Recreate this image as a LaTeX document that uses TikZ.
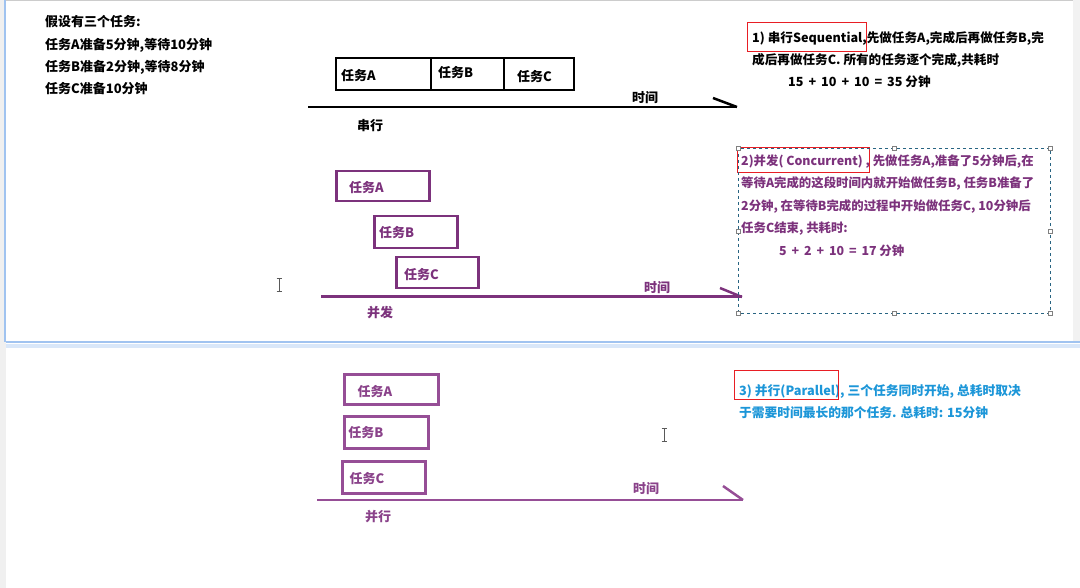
\documentclass[tikz,border=0pt]{standalone}
\usepackage{fontspec}
\setmainfont{Noto Sans CJK SC}
\definecolor{concpurple}{RGB}{124,50,124}
\definecolor{parapurple}{RGB}{150,78,150}
\definecolor{paratext}{RGB}{138,66,138}
\definecolor{notered}{RGB}{232,30,36}
\definecolor{noteblue}{RGB}{28,150,216}
\definecolor{selectblue}{RGB}{40,100,130}
\definecolor{pageedge}{RGB}{160,195,240}
\begin{document}
\begin{tikzpicture}[x=1pt,y=-1pt,
  font=\fontsize{13}{22}\selectfont\bfseries,
  taskbox/.style={draw,line width=2pt,anchor=north west},
  timeline/.style={line width=2.5pt},
  noteline/.style={anchor=west},
  redmark/.style={draw=notered,line width=0.8pt},
  handle/.style={draw=gray,fill=white,line width=0.5pt}]
\tikzstyle{every node}+=[inner sep=0pt]
\useasboundingbox (0,0) rectangle (1080,588);
% window around the page
\fill[gray!12] (0,0) rectangle (6,588);
\fill[gray!10] (1073,0) rectangle (1080,342);
\draw[pageedge,line width=1.5pt] (5,0) -- (5,342);
\draw[gray!40,line width=1pt] (6,0.5) -- (1073,0.5);
\draw[pageedge,line width=1.5pt] (6,342) -- (1080,342);
\draw[pageedge!40,line width=4pt] (6,346) -- (1080,346);

% given tasks
\node[noteline] (given0) at (45,22) {假设有三个任务:};
\node[noteline] (given1) at (45,45) {任务A准备5分钟,等待10分钟};
\node[noteline] (given2) at (45,67) {任务B准备2分钟,等待8分钟};
\node[noteline] (given3) at (45,89) {任务C准备10分钟};

% serial
\node[taskbox,minimum width=95,minimum height=32] (serA) at (335,57) {};
\node[taskbox,minimum width=73,minimum height=32] (serB) at (430,57) {};
\node[taskbox,minimum width=70,minimum height=32] (serC) at (503,57) {};
\node[noteline] (serAl) at (341,76) {任务A};
\node[noteline] (serBl) at (438,73) {任务B};
\node[noteline] (serCl) at (517,77) {任务C};
\coordinate (serL) at (308,107);
\coordinate (serR) at (737,107);
\draw[timeline] (serL) -- (serR);
\draw[timeline] (serR) -- ++(-24,-9);
\node (serT) at (645,98) {时间};
\node (serN) at (370,126) {串行};

\begin{scope}[font=\fontsize{12.6}{22}\selectfont\bfseries]
\node[noteline] (serNote1) at (752,38) {1) 串行Sequential,先做任务A,完成后再做任务B,完};
\node[noteline] (serNote2) at (752,60) {成后再做任务C. 所有的任务逐个完成,共耗时};
\node[noteline] (serNote3) at (788,82) {15\, + \,10\, + \,10\, = \,35 分钟};
\end{scope}
\draw[redmark] (747,22) rectangle (866,51);

% concurrent
\begin{scope}[concpurple]
\node[taskbox,line width=2.5pt,minimum width=93,minimum height=30] (conA) at (335,170) {};
\node[taskbox,line width=2.5pt,minimum width=83,minimum height=32] (conB) at (373,215) {};
\node[taskbox,line width=2.5pt,minimum width=82,minimum height=31] (conC) at (395,256) {};
\node[noteline] (conAl) at (349,188) {任务A};
\node[noteline] (conBl) at (379,233) {任务B};
\node[noteline] (conCl) at (404,275) {任务C};
\coordinate (conL) at (321,297);
\coordinate (conR) at (742,297);
\draw[timeline,line width=3pt] (conL) -- (conR);
\draw[timeline] (conR) -- ++(-22,-9);
\node (conT) at (657,288) {时间};
\node (conN) at (380,313) {并发};
\end{scope}
\begin{scope}[concpurple,font=\fontsize{12.4}{22}\selectfont\bfseries]
\node[noteline] (conNote1) at (741,162) {2)并发( Concurrent) , 先做任务A,准备了5分钟后,在};
\node[noteline] (conNote2) at (741,184) {等待A完成的这段时间内就开始做任务B, 任务B准备了};
\node[noteline] (conNote3) at (741,207) {2分钟, 在等待B完成的过程中开始做任务C, 10分钟后};
\node[noteline] (conNote4) at (741,229) {任务C结束, 共耗时:};
\node[noteline] (conNote5) at (779,251) {5\, + \,2\, + \,10\, = \,17 分钟};
\end{scope}
\draw[redmark] (737,147) rectangle (869,172);
\draw[selectblue,dashed,line width=0.8pt] (738,148) rectangle (1050,313);
\foreach \hx/\hy in {738/148,894/148,1050/148,738/231,1050/231,738/313,894/313,1050/313}
  \draw[handle] (\hx-2,\hy-2) rectangle (\hx+2,\hy+2);

% parallel
\begin{scope}[parapurple]
\node[taskbox,line width=2.5pt,minimum width=94,minimum height=30] (parA) at (343,373) {};
\node[taskbox,line width=2.5pt,minimum width=84,minimum height=32] (parB) at (343,415) {};
\node[taskbox,line width=2.5pt,minimum width=83,minimum height=32] (parC) at (341,460) {};
\coordinate (parL) at (317,500);
\coordinate (parR) at (743,500);
\draw[timeline] (parL) -- (parR);
\draw[timeline] (parR) -- ++(-20,-14);
\end{scope}
\begin{scope}[paratext]
\node (parAl) at (375,392) {任务A};
\node (parBl) at (366,433) {任务B};
\node (parCl) at (367,479) {任务C};
\node (parT) at (646,489) {时间};
\node (parN) at (378,517) {并行};
\end{scope}

\begin{scope}[noteblue,font=\fontsize{12.75}{22}\selectfont\bfseries]
\node[noteline] (parNote1) at (739,391) {3) 并行(Parallel), 三个任务同时开始, 总耗时取决};
\node[noteline] (parNote2) at (739,413) {于需要时间最长的那个任务. 总耗时: 15分钟};
\end{scope}
\draw[redmark] (734,370) rectangle (838,399);

% text cursors
\foreach \cx/\ct/\cb in {279/279/292,664/428/441}{
  \draw[gray!70!black,line width=1pt] (\cx,\ct) -- (\cx,\cb);
  \draw[gray!70!black,line width=1pt] (\cx-2.5,\ct) -- (\cx+2.5,\ct);
  \draw[gray!70!black,line width=1pt] (\cx-2.5,\cb) -- (\cx+2.5,\cb);
}
\end{tikzpicture}
\end{document}
